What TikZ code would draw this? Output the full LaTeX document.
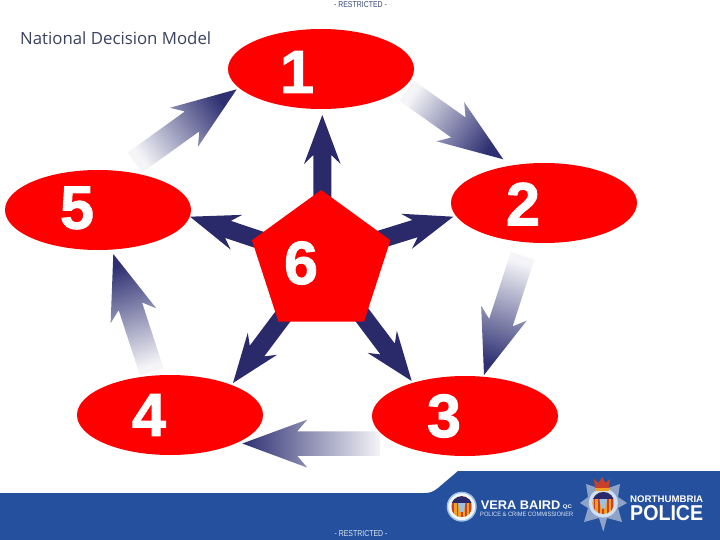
\documentclass[tikz,border=0pt]{standalone}
\usepackage{fontspec}
\usepackage{graphicx}
\usetikzlibrary{shapes.geometric,calc}
\setmainfont{Liberation Sans}
\newfontfamily\titlefont{Open Sans}
\newfontfamily\digitfont[FakeBold=1.6]{Liberation Sans Bold}
\definecolor{navy}{HTML}{2A2A6B}
\definecolor{tipblue}{HTML}{2E3072}
\definecolor{bandblue}{HTML}{24509E}
\definecolor{titlegrey}{HTML}{3A4260}
\definecolor{restr}{HTML}{3A4A78}
\definecolor{ringblue}{HTML}{9FC0E6}
\definecolor{staredge}{HTML}{8FA3C8}
\definecolor{crest}{HTML}{F0A020}
\definecolor{crestdark}{HTML}{C8402A}
\tikzset{
  redoval/.style={ellipse,fill=red,minimum width=186pt,minimum height=80pt,inner sep=0pt},
  digit/.style={font=\fontsize{61}{61}\digitfont,text=white,inner sep=0pt},
  restricted/.style={font=\fontsize{6.6}{7}\selectfont,inner sep=0pt},
  wtext/.style={text=white,inner sep=0pt},
}
\newcommand{\arrowpoly}[7]{% style base tip headlen headhalf notchlen shafthalf
  \path[#1] ($(#2)!#7pt!90:(#3)$)
    -- ($(#3)!#6pt!(#2)!#7pt!-90:(#2)$)
    -- ($(#3)!#4pt!(#2)!#5pt!-90:(#2)$)
    -- (#3)
    -- ($(#3)!#4pt!(#2)!#5pt!90:(#2)$)
    -- ($(#3)!#6pt!(#2)!#7pt!90:(#2)$)
    -- ($(#2)!#7pt!-90:(#3)$) -- cycle;}
\newcommand{\outerarrow}[3]{\arrowpoly{bottom color=white!95!tipblue,top color=tipblue,shading angle=#1}{#2}{#3}{65}{24}{55}{12.3}}
\newcommand{\innerarrow}[2]{\arrowpoly{fill=navy}{#1}{#2}{49}{18.3}{40}{9}}
\newcommand{\crestdisc}[3]{% centre x, y, radius
  \begin{scope}
    \clip (#1,#2) circle (#3);
    \fill[crest] (#1-#3,#2-#3) rectangle (#1+#3,#2+#3);
    \foreach \k in {-2,-1,0,1,2}{\fill[crestdark] (#1+\k*#3*0.4-#3*0.08,#2-#3) rectangle (#1+\k*#3*0.4+#3*0.08,#2+#3);}
    \fill[navy] (#1-#3,#2-#3) rectangle (#1+#3,#2-#3*0.35);
    \fill[ringblue] (#1-#3*0.35,#2-#3*0.35) -- (#1+#3*0.35,#2-#3*0.35) -- (#1+#3*0.18,#2+#3*0.5) -- (#1-#3*0.18,#2+#3*0.5) -- cycle;
  \end{scope}}
\begin{document}
\begin{tikzpicture}[x=1pt,y=-1pt]
\useasboundingbox (0,0) rectangle (720,540);
\fill[white] (0,0) rectangle (720,540);
% band
\fill[bandblue] (0,493) -- (425,493) .. controls (431,493) and (434,491) .. (438,488) -- (458,471) -- (720,471) -- (720,540) -- (0,540) -- cycle;
% connector end points
\coordinate (oab) at (135,162.5);   \coordinate (oat) at (236.7,89.3);
\coordinate (obb) at (406.7,90.8);  \coordinate (obt) at (503.3,159.3);
\coordinate (ocb) at (522.5,255.8); \coordinate (oct) at (484,375);
\coordinate (odb) at (380,443.7);   \coordinate (odt) at (242.3,443.5);
\coordinate (oeb) at (151.7,371.7); \coordinate (oet) at (113.3,254);
\coordinate (cub) at (322.3,200);   \coordinate (cut) at (322.3,115);
\coordinate (crb) at (372,242);     \coordinate (crt) at (453.3,216.7);
\coordinate (clb) at (270.5,243.6); \coordinate (clt) at (190,216.7);
\coordinate (cdlb) at (284,315);    \coordinate (cdlt) at (233,383);
\coordinate (cdrb) at (360.5,313);  \coordinate (cdrt) at (411.7,381);
% outer arrows
\outerarrow{-54.3}{oab}{oat}
\outerarrow{-125.3}{obb}{obt}
\outerarrow{162.1}{ocb}{oct}
\outerarrow{90}{odb}{odt}
\outerarrow{18}{oeb}{oet}
% inner arrows
\innerarrow{cub}{cut}
\innerarrow{crb}{crt}
\innerarrow{clb}{clt}
\innerarrow{cdlb}{cdlt}
\innerarrow{cdrb}{cdrt}
% nodes
\node[redoval] (n1) at (321,69) {};
\node[redoval] (n2) at (544,203) {};
\node[redoval] (n3) at (465,416) {};
\node[redoval] (n4) at (170,415) {};
\node[redoval] (n5) at (98,210) {};
\node[regular polygon,regular polygon sides=5,fill=red,minimum size=145.6pt,inner sep=0pt] (n6) at (321.2,262.8) {};
\node[digit] (d1) at (297,72) {1};
\node[digit] (d2) at (523,204) {2};
\node[digit] (d3) at (444,416) {3};
\node[digit] (d4) at (149,415) {4};
\node[digit] (d5) at (77,208) {5};
\node[digit] (d6) at (301,263) {6};
% texts
\node[text=titlegrey,inner sep=0pt,anchor=west,font=\titlefont] (title) at (20,38) {\resizebox{191pt}{!}{National Decision Model}};
\node[restricted,text=restr] (rt) at (360.5,4.5) {\resizebox{53pt}{6pt}{- RESTRICTED -}};
\node[restricted,text=white!85!bandblue] (rb) at (361,534) {\resizebox{53pt}{6pt}{- RESTRICTED -}};
% left logo
\fill[ringblue] (461.7,506.7) circle (15);
\fill[white!85!ringblue] (461.7,506.7) circle (13.5);
\crestdisc{461.7}{506.7}{10.5}
\node[wtext,anchor=south west] (vb) at (480.7,509.3) {\resizebox{79.5pt}{8.6pt}{\bfseries VERA BAIRD}};
\node[wtext,anchor=south west] (qc) at (562.7,509.3) {\resizebox{9pt}{3.6pt}{\bfseries QC}};
\node[text=white!85!bandblue,inner sep=0pt,anchor=south west] (pcc) at (480,516.7) {\resizebox{93pt}{4.4pt}{POLICE \& CRIME COMMISSIONER}};
% right logo
\fill[staredge] (603.3,531.7) -- (607,518) -- (622,522) -- (618,508) -- (627,503) -- (618,497) -- (620,484) -- (608,488) -- (598,488) -- (586,484) -- (588,497) -- (580,503) -- (588,508) -- (584,522) -- (599,518) -- cycle;
\fill[ringblue!50!white] (603.3,503) circle (14.5);
\crestdisc{603.3}{503}{11}
\fill[crestdark] (595,488) -- (594,479) -- (598.5,483) -- (602,477) -- (605.5,483) -- (610,479) -- (609,488) -- cycle;
\fill[crest] (595,488) rectangle (609,490.5);
\node[wtext,anchor=south west] (nb) at (630,502.7) {\resizebox{73pt}{6.7pt}{\bfseries NORTHUMBRIA}};
\node[wtext,anchor=south west] (pol) at (630,520.7) {\resizebox{73pt}{15pt}{\bfseries POLICE}};
\end{tikzpicture}
\end{document}
